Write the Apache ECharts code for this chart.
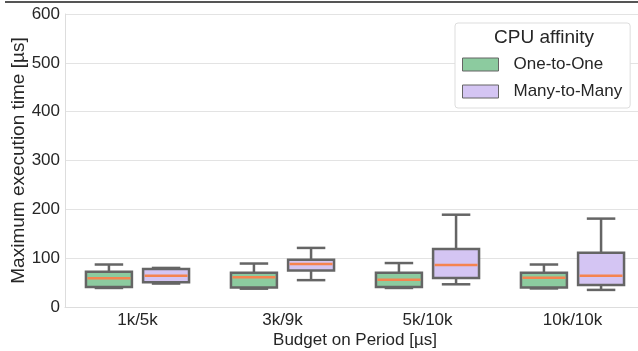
<!DOCTYPE html>
<html>
<head>
<meta charset="utf-8">
<style>
  html, body { margin: 0; padding: 0; background: #fff; }
  #chart { width: 638px; height: 351px; }
</style>
<script src="https://cdn.jsdelivr.net/npm/echarts@6/dist/echarts.min.js"></script>
</head>
<body>
<div id="chart"></div>
<script>
// Budget/period configurations on the x axis
var categories = ['1k/5k', '3k/9k', '5k/10k', '10k/10k'];
var seriesNames = ['One-to-One', 'Many-to-Many'];

// Box statistics per configuration: [min, Q1, median, Q3, max] in µs
var oneToOne = [
  [39, 41, 59, 72, 87],
  [37.5, 40, 61, 70, 89],
  [39, 41, 56, 70, 90],
  [38, 40, 60, 70, 87]
];
var manyToMany = [
  [48, 50.5, 64, 78, 80],
  [55, 74.5, 88, 97, 121],
  [46.5, 59.5, 86, 119, 189],
  [35, 45, 64, 111, 181]
];

var yTicks = [0, 100, 200, 300, 400, 500, 600];

var fillColors = ['#8ccb9f', '#d4c5f3'];
var edgeColor = '#656565';
var medianColor = '#f5844f';
var textColor = '#262626';
var font = 'Liberation Sans';

// Draws one box-and-whisker glyph per category, side by side within the band
function makeBoxRenderer(slot) {
  return function (params, api) {
    var cat = api.value(0);
    var band = api.size([1, 0])[0];
    var boxW = band * 0.317;
    var capW = boxW * 0.62;
    var center = api.coord([cat, 0])[0] + (slot === 0 ? -1 : 1) * band * 0.197;
    var yMin = api.coord([cat, api.value(1)])[1];
    var yQ1 = api.coord([cat, api.value(2)])[1];
    var yMed = api.coord([cat, api.value(3)])[1];
    var yQ3 = api.coord([cat, api.value(4)])[1];
    var yMax = api.coord([cat, api.value(5)])[1];
    var lineStyle = { stroke: edgeColor, lineWidth: 2.5, fill: null };
    return {
      type: 'group',
      children: [
        { type: 'line', shape: { x1: center, y1: yQ3, x2: center, y2: yMax }, style: lineStyle },
        { type: 'line', shape: { x1: center, y1: yQ1, x2: center, y2: yMin }, style: lineStyle },
        { type: 'line', shape: { x1: center - capW / 2, y1: yMax, x2: center + capW / 2, y2: yMax }, style: lineStyle },
        { type: 'line', shape: { x1: center - capW / 2, y1: yMin, x2: center + capW / 2, y2: yMin }, style: lineStyle },
        { type: 'rect', shape: { x: center - boxW / 2, y: yQ3, width: boxW, height: yQ1 - yQ3 },
          style: { fill: fillColors[slot], stroke: edgeColor, lineWidth: 2.5 } },
        { type: 'line', shape: { x1: center - boxW / 2 + 1.5, y1: yMed, x2: center + boxW / 2 - 1.5, y2: yMed },
          style: { stroke: medianColor, lineWidth: 2.5 } }
      ]
    };
  };
}

function toRows(stats) {
  return stats.map(function (s, i) { return [i].concat(s); });
}

var chart = echarts.init(document.getElementById('chart'), null, { renderer: 'canvas' });

chart.setOption({
  animation: false,
  backgroundColor: '#ffffff',
  textStyle: { fontFamily: font },
  grid: { left: 65, top: 14, bottom: 44, width: 580, containLabel: false, outerBoundsMode: 'none' },
  xAxis: {
    type: 'category',
    data: categories,
    name: 'Budget on Period [µs]',
    nameLocation: 'middle',
    nameGap: 25,
    nameMoveOverlap: false,
    nameTextStyle: { color: textColor, fontSize: 17, fontFamily: font },
    axisLine: { show: true, lineStyle: { color: '#dddddd', width: 1 } },
    axisTick: { show: false },
    axisLabel: { color: textColor, fontSize: 17, fontFamily: font, margin: 5 },
    splitLine: { show: false }
  },
  yAxis: {
    type: 'value',
    min: yTicks[0],
    max: yTicks[yTicks.length - 1],
    interval: yTicks[1] - yTicks[0],
    name: 'Maximum execution time [µs]',
    nameLocation: 'middle',
    nameGap: 37,
    nameMoveOverlap: false,
    nameTextStyle: { color: textColor, fontSize: 19, fontFamily: font },
    axisLine: { show: true, lineStyle: { color: '#dddddd', width: 1 } },
    axisTick: { show: false },
    axisLabel: { color: textColor, fontSize: 17, fontFamily: font, margin: 5 },
    splitLine: { show: true, lineStyle: { color: '#e3e3e3', width: 1 } }
  },
  legend: {
    orient: 'vertical',
    left: 455,
    top: 23,
    padding: [33, 8, 8, 7],
    itemGap: 10,
    itemWidth: 36,
    itemHeight: 13,
    icon: 'rect',
    backgroundColor: '#ffffff',
    borderColor: '#dddddd',
    borderWidth: 1,
    borderRadius: 3,
    textStyle: { color: textColor, fontSize: 17, fontFamily: font, lineHeight: 16, padding: [0, 0, 0, 10] },
    data: [
      { name: seriesNames[0], itemStyle: { color: fillColors[0], borderColor: edgeColor, borderWidth: 1 } },
      { name: seriesNames[1], itemStyle: { color: fillColors[1], borderColor: edgeColor, borderWidth: 1 } }
    ]
  },
  graphic: [
    { type: 'line', silent: true, z: 100,
      shape: { x1: 5, y1: 2, x2: 638, y2: 2 },
      style: { stroke: '#555555', lineWidth: 2 } },
    { type: 'text', silent: true, z: 100, x: 544, y: 38,
      style: { text: 'CPU affinity', fill: textColor, fontSize: 19, fontFamily: font, align: 'center', verticalAlign: 'middle' } }
  ],
  series: [
    {
      name: seriesNames[0],
      type: 'custom',
      color: fillColors[0],
      renderItem: makeBoxRenderer(0),
      encode: { x: 0, y: [1, 2, 3, 4, 5] },
      data: toRows(oneToOne)
    },
    {
      name: seriesNames[1],
      type: 'custom',
      color: fillColors[1],
      renderItem: makeBoxRenderer(1),
      encode: { x: 0, y: [1, 2, 3, 4, 5] },
      data: toRows(manyToMany)
    }
  ]
});
</script>
</body>
</html>
